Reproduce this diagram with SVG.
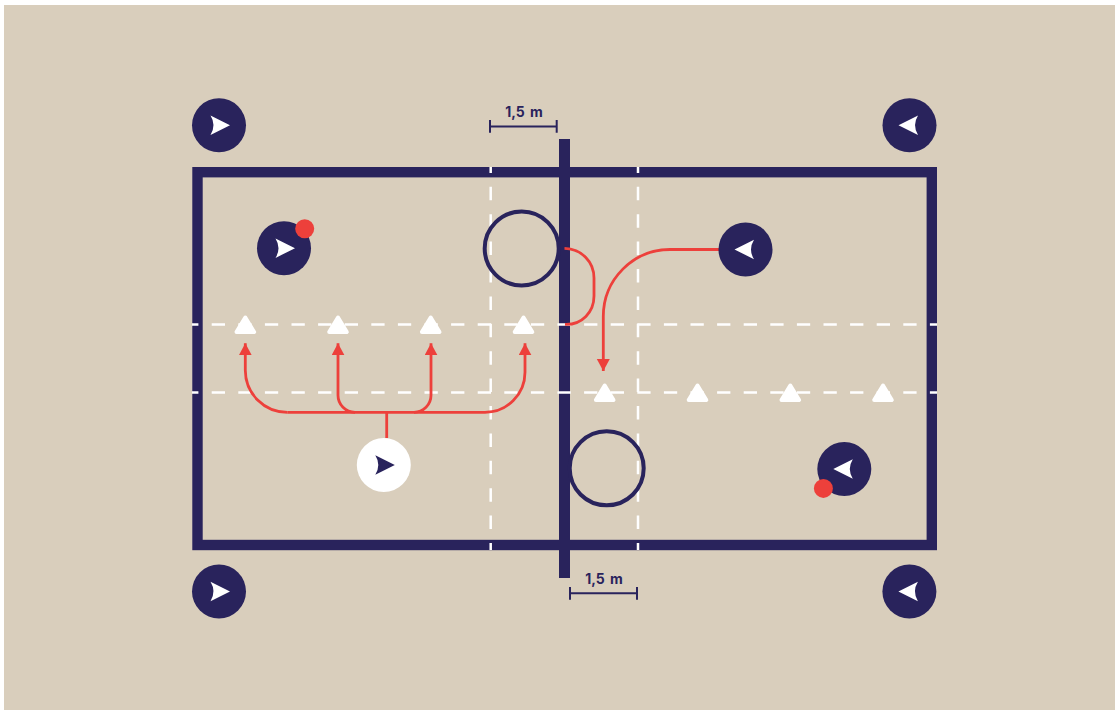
<svg xmlns="http://www.w3.org/2000/svg" width="1115" height="710" viewBox="0 0 1115 710">
<style>
.bg{fill:#d9cebc}
.line{fill:none;stroke:#29235c;stroke-width:10.400}
.hdash{fill:none;stroke:#fff;stroke-width:2.500;stroke-dasharray:13.300 13.300;stroke-dashoffset:6.900}
.vdash{fill:none;stroke:#fff;stroke-width:2.500;stroke-dasharray:13.500 13.900;stroke-dashoffset:7.600}
.ring{fill:none;stroke:#29235c;stroke-width:4}
.run{fill:none;stroke:#ed403b;stroke-width:2.800}
.dim{fill:none;stroke:#29235c;stroke-width:2}
.dot{fill:#ed403b}
.disc{fill:#29235c}
.glyph{fill:#fff}
.cone{fill:#fff;stroke:#fff;stroke-width:4;stroke-linejoin:round}
text{font-family:"Inter","Liberation Sans",sans-serif;font-size:14px;font-weight:700;fill:#29235c;text-anchor:middle;word-spacing:2px}
</style>
<defs>
<marker id="arrow" markerUnits="userSpaceOnUse" markerWidth="13" markerHeight="14" refX="12" refY="6.500" orient="auto"><path d="M0 0L12 6.500L0 13Z" fill="#ed403b"/></marker>
<g id="player"><circle r="27" class="disc"/><path class="glyph" d="M-8.500-9.700L11 0L-8.500 9.700Q-2.500 0-8.500-9.700Z"/></g>
<g id="playerW"><circle r="27" fill="#fff"/><path fill="#29235c" d="M-8.500-9.700L11 0L-8.500 9.700Q-2.500 0-8.500-9.700Z"/></g>
<path id="cone" class="cone" d="M0-7.500L8.800 7H-8.800Z"/>
</defs>
<rect width="1115" height="710" fill="#fff"/>
<rect class="bg" x="4" y="5" width="1111" height="705"/>
<g id="court">
<rect class="line" x="197.500" y="172.200" width="734.300" height="372.800"/>
<path class="line" style="stroke-width:11" d="M564.500 139V578"/>
<path class="hdash" d="M192 324.400H937M192 392.400H937"/>
<path class="vdash" d="M490.700 167V550M638 167V550"/>
</g>
<g id="zone-left"><circle class="ring" cx="521.700" cy="248.500" r="37"/></g>
<g id="zone-right"><circle class="ring" cx="606.700" cy="468.300" r="37"/></g>
<g id="connectors">
<path class="run" d="M386.700 438V412.300"/>
<path class="run" marker-end="url(#arrow)" d="M287.300 412.300A42 42 0 0 1 245.300 370.300V343.300"/>
<path class="run" d="M287.300 412.300H485"/>
<path class="run" marker-end="url(#arrow)" d="M485 412.300A40 40 0 0 0 525 372.300V343.300"/>
<path class="run" marker-end="url(#arrow)" d="M355 412.300A17 17 0 0 1 338 395.300V343.300"/>
<path class="run" marker-end="url(#arrow)" d="M414 412.300A17 17 0 0 0 431 395.300V343.300"/>
<path class="run" d="M564.500 248.400C582 249 594 262 594 278V296C594 312 582 325 565 324.400"/>
<path class="run" marker-end="url(#arrow)" d="M719 249.500H670A66.700 67 0 0 0 603.300 316.500V371"/>
</g>
<g id="dim-top"><path class="dim" d="M490 126.400H556.700M490 120V132.800M556.700 120V132.800"/><text x="524" y="117">1,5 m</text></g>
<g id="dim-bottom"><path class="dim" d="M570 593.300H637M570 587V599.800M637 587V599.800"/><text x="604" y="584">1,5 m</text></g>
<g id="cones-left"><use href="#cone" x="245.300" y="325"/><use href="#cone" x="338" y="325"/><use href="#cone" x="430.700" y="325"/><use href="#cone" x="523.500" y="325"/></g>
<g id="cones-right"><use href="#cone" x="604.700" y="393"/><use href="#cone" x="697.500" y="393"/><use href="#cone" x="790.300" y="393"/><use href="#cone" x="883" y="393"/></g>
<g id="p1"><use href="#player" x="219" y="125.300"/></g>
<g id="p2"><use href="#player" transform="translate(909.500 125.300) scale(-1 1)"/></g>
<g id="p3"><use href="#player" x="219" y="591.500"/></g>
<g id="p4"><use href="#player" transform="translate(909.400 591.500) scale(-1 1)"/></g>
<g id="p5"><use href="#player" x="284" y="248.200"/><circle class="dot" cx="304.700" cy="228.700" r="9.500"/></g>
<g id="p6"><use href="#player" transform="translate(745.500 249.500) scale(-1 1)"/></g>
<g id="p7"><use href="#player" transform="translate(844.300 469) scale(-1 1)"/><circle class="dot" cx="823.400" cy="488.400" r="9.500"/></g>
<g id="p8"><use href="#playerW" x="383.800" y="465"/></g>
</svg>
